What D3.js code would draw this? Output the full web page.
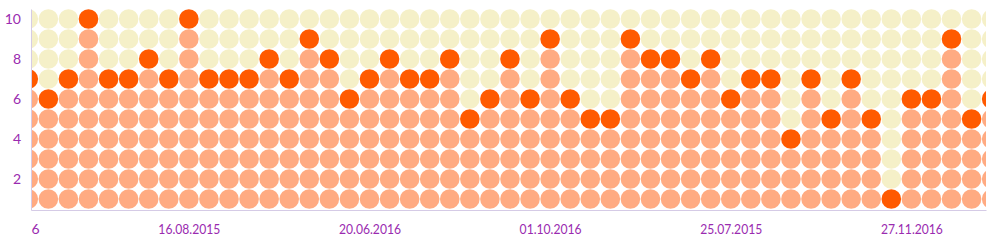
<!DOCTYPE html>
<meta charset="utf-8">

<body style="margin:0;background:#fff;">
    <svg width="992" height="247"></svg>
</body>
<script src="https://cdn.jsdelivr.net/npm/d3@7/dist/d3.min.js"></script>
<script>
    // one value per column (height of the dot stack, 1..10)
    let values = [7, 6, 7, 10, 7, 7, 8, 7, 10, 7, 7, 7, 8, 7, 9, 8, 6, 7, 8, 7,
        7, 8, 5, 6, 8, 6, 9, 6, 5, 5, 9, 8, 8, 7, 8, 6, 7, 7, 4, 7,
        5, 7, 5, 1, 6, 6, 9, 5, 6];
    // rows of every column
    let levels = d3.range(1, 11);
    // x axis labels and the column they sit under
    // (the first label is scrolled off to the left, only its last char shows)
    let tickCols = [-1, 8, 17, 26, 35, 44];
    let tickLabels = ['6', '16.08.2015', '20.06.2016', '01.10.2016', '25.07.2015', '27.11.2016'];
    let yTicks = [2, 4, 6, 8, 10];

    let svg = d3.select('svg'),
        plotLeft = 31,
        plotRight = 986,
        plotBottom = 210,
        plotTop = 9,
        r = 9.8,
        labelW = 62,
        purple = '#9a2bb0';

    // column i sits at 28.3 + 20.07 * i, the visible window cuts the first and last one
    let x = d3.scaleLinear()
        .domain([0.1345, 47.718])
        .range([plotLeft, plotRight]);
    let y = d3.scaleLinear()
        .domain([0.45, 10.5])
        .range([plotBottom, plotTop]);

    let color = (v, l) => l < v ? '#ffab82' : (l == v ? '#ff5a00' : '#f5f0c8');

    svg.append('defs').append('clipPath')
        .attr('id', 'plot')
        .append('rect')
        .attr('x', plotLeft).attr('y', 0)
        .attr('width', plotRight - plotLeft).attr('height', plotBottom);

    let cols = svg.append('g')
        .attr('clip-path', 'url(#plot)')
        .selectAll('g')
        .data(values)
        .join('g')
        .attr('transform', (d, i) => `translate(${x(i)},0)`);

    cols.selectAll('circle')
        .data(v => levels.map(l => ({ v, l })))
        .join('circle')
        .attr('cy', d => y(d.l))
        .attr('r', r)
        .attr('fill', d => color(d.v, d.l));

    // y axis
    let yAxis = svg.append('g')
        .attr('transform', `translate(${plotLeft},0)`)
        .call(d3.axisLeft(y).tickValues(yTicks).tickSize(0).tickPadding(10));
    yAxis.select('.domain').attr('stroke', '#d5cbe6');
    yAxis.selectAll('text')
        .attr('fill', purple)
        .style('font', '14px Lato');

    // x axis
    let xAxis = svg.append('g')
        .attr('transform', `translate(0,${plotBottom})`)
        .call(d3.axisBottom(x).tickValues(tickCols).tickSize(0).tickPadding(14)
            .tickFormat((d, i) => tickLabels[i]));
    xAxis.select('.domain').attr('stroke', '#d5cbe6');
    xAxis.selectAll('text')
        .attr('fill', purple)
        .style('font', '14px Lato');
    xAxis.selectAll('.tick')
        .filter(d => d >= 0)
        .select('text')
        .attr('textLength', labelW)
        .attr('lengthAdjust', 'spacingAndGlyphs');
    // tail of the cut-off label: ends where the full label would end
    xAxis.selectAll('.tick')
        .filter(d => d < 0)
        .select('text')
        .attr('text-anchor', 'end')
        .attr('x', labelW / 2);
</script>
